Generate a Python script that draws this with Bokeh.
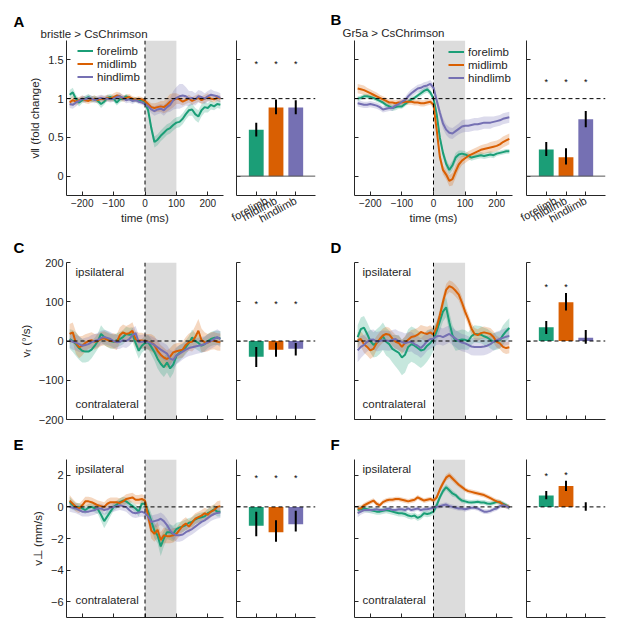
import numpy as np
from bokeh.plotting import figure
from bokeh.models import (Span, BoxAnnotation, Label, Legend, LegendItem,
                          FixedTicker, Range1d, Title)
from bokeh.layouts import column, row
from bokeh.embed import file_html
from bokeh.resources import INLINE
from bokeh.core.properties import value

# ---------------- data ----------------
t_ms = list(range(-240, 241, 10))
limbs = ["forelimb", "midlimb", "hindlimb"]
xticks_time = [-200, -100, 0, 100, 200]

# Panel A: bristle > CsChrimson, forward velocity (fold change)
A_fore = [1.05, 1.08, 1.00, 0.95, 0.98, 1.00, 1.02, 0.99, 1.00, 0.97,
          0.93, 0.96, 1.01, 1.02, 1.00, 0.95, 0.99, 1.00, 1.03, 1.01,
          0.98, 0.99, 0.97, 0.98, 0.95, 0.85, 0.62, 0.44, 0.47, 0.52,
          0.56, 0.60, 0.62, 0.66, 0.69, 0.70, 0.74, 0.80, 0.85, 0.86,
          0.80, 0.77, 0.85, 0.89, 0.88, 0.92, 0.90, 0.93, 0.92]
A_mid = [0.95, 0.98, 0.96, 0.98, 1.00, 0.98, 0.97, 0.99, 1.00, 0.98,
         1.00, 0.99, 1.01, 1.00, 1.02, 1.04, 1.03, 1.00, 1.01, 1.02,
         1.00, 0.99, 1.00, 0.99, 0.97, 0.93, 0.89, 0.88, 0.89, 0.90,
         0.89, 0.92, 0.96, 0.98, 1.00, 0.99, 0.96, 0.98, 1.00, 0.97,
         0.99, 1.01, 0.98, 1.00, 1.02, 1.00, 0.99, 1.01, 1.00]
A_hind = [0.93, 0.92, 0.95, 0.97, 1.00, 0.99, 1.01, 1.00, 0.98, 1.00,
          1.01, 1.00, 1.00, 0.99, 1.00, 1.02, 1.03, 1.01, 0.98, 0.99,
          0.97, 0.98, 0.96, 0.95, 0.93, 0.90, 0.86, 0.84, 0.86, 0.87,
          0.85, 0.89, 0.92, 0.98, 1.01, 1.03, 1.04, 1.03, 1.00, 1.01,
          0.99, 1.03, 1.02, 1.00, 1.03, 1.05, 1.04, 1.03, 1.01]
A_fore_sem = [0.06, 0.06, 0.05, 0.05, 0.04, 0.04, 0.04, 0.04, 0.04, 0.04,
              0.05, 0.04, 0.04, 0.04, 0.04, 0.04, 0.04, 0.03, 0.03, 0.03,
              0.03, 0.03, 0.03, 0.03, 0.03, 0.04, 0.06, 0.07, 0.07, 0.07,
              0.07, 0.07, 0.07, 0.07, 0.07, 0.07, 0.07, 0.07, 0.07, 0.08,
              0.08, 0.08, 0.08, 0.07, 0.06, 0.06, 0.05, 0.05, 0.05]
A_mid_sem = [0.05, 0.05, 0.05, 0.04, 0.04, 0.04, 0.04, 0.04, 0.04, 0.04,
             0.04, 0.04, 0.04, 0.04, 0.05, 0.05, 0.05, 0.04, 0.04, 0.04,
             0.03, 0.03, 0.03, 0.03, 0.03, 0.04, 0.05, 0.06, 0.06, 0.07,
             0.08, 0.09, 0.10, 0.09, 0.07, 0.06, 0.05, 0.05, 0.05, 0.05,
             0.05, 0.05, 0.05, 0.05, 0.05, 0.04, 0.04, 0.04, 0.04]
A_hind_sem = [0.05, 0.05, 0.05, 0.04, 0.04, 0.04, 0.04, 0.04, 0.04, 0.04,
              0.04, 0.04, 0.04, 0.04, 0.04, 0.04, 0.04, 0.04, 0.04, 0.04,
              0.04, 0.03, 0.03, 0.03, 0.03, 0.04, 0.05, 0.06, 0.06, 0.06,
              0.07, 0.07, 0.09, 0.12, 0.14, 0.16, 0.15, 0.12, 0.10, 0.09,
              0.08, 0.08, 0.08, 0.07, 0.07, 0.07, 0.06, 0.06, 0.06]
A_bar = [0.60, 0.885, 0.885]
A_bar_lo = [0.51, 0.80, 0.80]
A_bar_hi = [0.69, 0.99, 0.98]
A_star = [1.45, 1.45, 1.45]

# Panel B: Gr5a > CsChrimson, forward velocity (fold change)
B_fore = [1.00, 1.01, 1.03, 1.03, 1.02, 1.01, 0.99, 0.97, 0.95, 0.92,
          0.90, 0.88, 0.89, 0.90, 0.90, 0.93, 0.96, 0.99, 1.01, 1.04,
          1.07, 1.10, 1.12, 1.08, 1.00, 0.80, 0.50, 0.30, 0.16, 0.08,
          0.14, 0.24, 0.28, 0.29, 0.28, 0.26, 0.24, 0.25, 0.26, 0.27,
          0.26, 0.27, 0.28, 0.27, 0.29, 0.30, 0.31, 0.32, 0.32]
B_mid = [1.13, 1.12, 1.11, 1.09, 1.07, 1.05, 1.03, 1.01, 0.99, 0.97,
         0.95, 0.95, 0.94, 0.95, 0.95, 0.96, 0.96, 0.96, 0.95, 0.95,
         0.94, 0.94, 0.95, 0.96, 0.92, 0.60, 0.25, 0.08, 0.02, -0.06,
         -0.04, 0.06, 0.15, 0.20, 0.23, 0.26, 0.28, 0.30, 0.32, 0.34,
         0.35, 0.36, 0.37, 0.38, 0.39, 0.41, 0.44, 0.46, 0.48]
B_hind = [0.94, 0.93, 0.92, 0.92, 0.93, 0.92, 0.91, 0.89, 0.86, 0.87,
          0.88, 0.88, 0.91, 0.93, 0.96, 0.98, 1.03, 1.07, 1.10, 1.13,
          1.14, 1.16, 1.17, 1.19, 1.14, 0.98, 0.82, 0.68, 0.60, 0.56,
          0.55, 0.58, 0.61, 0.64, 0.65, 0.65, 0.66, 0.67, 0.67, 0.68,
          0.69, 0.69, 0.69, 0.70, 0.71, 0.72, 0.74, 0.75, 0.76]
B_fore_sem = [0.03, 0.03, 0.03, 0.03, 0.03, 0.03, 0.03, 0.03, 0.03, 0.04,
              0.04, 0.04, 0.04, 0.03, 0.03, 0.03, 0.03, 0.03, 0.03, 0.03,
              0.04, 0.04, 0.04, 0.04, 0.04, 0.04, 0.05, 0.05, 0.06, 0.06,
              0.06, 0.06, 0.05, 0.04, 0.04, 0.04, 0.04, 0.04, 0.04, 0.04,
              0.04, 0.04, 0.04, 0.04, 0.03, 0.03, 0.03, 0.03, 0.03]
B_mid_sem = [0.06, 0.06, 0.06, 0.05, 0.05, 0.05, 0.05, 0.04, 0.04, 0.04,
             0.04, 0.04, 0.04, 0.04, 0.04, 0.04, 0.04, 0.04, 0.04, 0.04,
             0.04, 0.04, 0.04, 0.04, 0.04, 0.05, 0.06, 0.06, 0.06, 0.07,
             0.08, 0.08, 0.07, 0.06, 0.06, 0.06, 0.06, 0.06, 0.06, 0.06,
             0.06, 0.06, 0.07, 0.07, 0.07, 0.07, 0.07, 0.07, 0.07]
B_hind_sem = [0.04, 0.04, 0.04, 0.04, 0.04, 0.04, 0.04, 0.04, 0.04, 0.04,
              0.04, 0.04, 0.04, 0.04, 0.04, 0.04, 0.05, 0.05, 0.05, 0.05,
              0.05, 0.05, 0.05, 0.05, 0.05, 0.05, 0.06, 0.07, 0.07, 0.07,
              0.07, 0.07, 0.07, 0.08, 0.08, 0.08, 0.08, 0.08, 0.08, 0.08,
              0.08, 0.08, 0.08, 0.07, 0.07, 0.07, 0.07, 0.07, 0.07]
B_bar = [0.345, 0.245, 0.735]
B_bar_lo = [0.26, 0.15, 0.63]
B_bar_hi = [0.44, 0.36, 0.84]
B_star = [1.22, 1.22, 1.22]

# Panel C: bristle, angular velocity (deg/s)
C_fore = [5, 0, -8, -18, -25, -27, -27, -22, -12, 0,
          18, 10, 5, 0, -2, 2, 5, 10, 18, 16,
          17, -5, -25, -12, -5, -3, -15, -28, -45, -58,
          -67, -55, -70, -60, -38, -30, -24, -16, -5, 9,
          0, -5, -12, -8, 0, 5, 8, 8, 7]
C_mid = [18, 22, -5, -16, -12, -5, 0, 2, -2, 0,
         5, 7, 3, 0, 0, -3, 15, 22, 18, 20,
         26, 5, 1, 1, 0, -2, -5, -10, -25, -35,
         -42, -46, -40, -29, -26, -24, -22, -10, -3, -2,
         10, 26, 2, -3, -4, 0, 1, -2, -3]
C_hind = [3, -2, -4, -8, -12, -10, -8, -3, 0, 3,
          8, 10, 8, 5, 0, -3, -2, 2, 0, 5,
          15, 20, -3, -2, -1, -3, -6, -10, -16, -22,
          -27, -32, -45, -48, -37, -32, -27, -22, -18, -16,
          -14, -12, -10, -8, -3, 0, 5, 10, 5]
C_fore_sem = [25, 28, 30, 30, 30, 28, 25, 22, 20, 20,
              22, 20, 20, 20, 18, 18, 18, 18, 18, 18,
              18, 20, 20, 18, 18, 18, 20, 22, 25, 25,
              25, 25, 25, 22, 20, 20, 18, 18, 18, 20,
              20, 20, 18, 18, 18, 18, 18, 18, 18]
C_mid_sem = [25, 25, 28, 28, 25, 22, 20, 20, 20, 18,
             18, 18, 18, 18, 20, 20, 20, 20, 20, 22,
             22, 20, 20, 20, 18, 20, 22, 22, 25, 25,
             25, 22, 22, 20, 20, 20, 20, 20, 22, 25,
             28, 30, 30, 25, 22, 22, 22, 22, 22]
C_hind_sem = [20, 20, 20, 20, 18, 18, 18, 18, 18, 18,
              18, 18, 18, 18, 18, 18, 18, 18, 18, 18,
              18, 18, 18, 18, 18, 18, 18, 18, 20, 20,
              22, 22, 22, 22, 22, 22, 20, 20, 20, 20,
              20, 20, 20, 20, 20, 20, 20, 20, 20]
C_bar = [-40, -22, -20]
C_bar_lo = [-66, -40, -37]
C_bar_hi = [-15, -4, -5]
C_star = [95, 95, 95]

# Panel D: Gr5a, angular velocity (deg/s)
D_fore = [10, 30, 34, 18, 0, -10, -5, 2, 12, -2,
          -8, -20, -25, -30, -42, -35, -15, -8, -12, -18,
          -24, -22, -12, -5, 5, 25, 50, 75, 86, 48,
          15, 0, 2, 4, 3, 0, 12, 18, 17, 16,
          12, 9, 3, -2, 0, 2, 15, 25, 33]
D_mid = [2, 5, -8, -15, -24, -20, -5, 5, 14, 18,
         16, 6, -2, -5, -15, -5, 3, 10, 12, 16,
         23, 20, 18, 22, 16, 35, 65, 100, 130, 140,
         136, 128, 118, 98, 75, 55, 32, 18, 15, 20,
         22, 20, 18, 10, -2, -6, -15, -18, -16]
D_hind = [-24, -15, -10, -2, 3, 4, -2, 0, 2, 1,
          0, 3, 5, 0, -2, -6, -3, -2, -8, -12,
          -18, -10, 0, 5, 6, 12, 13, 10, 14, 18,
          12, 6, 0, -4, -6, -10, -14, -15, -15, -15,
          -14, -12, -8, -2, 2, 5, 8, 11, 13]
D_fore_sem = [30, 30, 30, 30, 30, 32, 35, 35, 35, 35,
              35, 35, 40, 45, 45, 45, 45, 45, 45, 45,
              45, 40, 40, 35, 30, 25, 25, 25, 25, 25,
              25, 25, 25, 25, 25, 22, 22, 22, 22, 22,
              22, 22, 22, 22, 22, 22, 25, 25, 25]
D_mid_sem = [20, 20, 22, 22, 22, 20, 18, 18, 18, 18,
             18, 18, 18, 18, 18, 18, 18, 18, 18, 18,
             18, 18, 18, 18, 15, 15, 15, 15, 15, 15,
             15, 15, 15, 15, 15, 15, 15, 15, 15, 15,
             15, 15, 15, 15, 15, 15, 15, 15, 15]
D_hind_sem = [30, 28, 25, 25, 25, 25, 25, 25, 25, 25,
              25, 25, 25, 25, 25, 25, 25, 25, 25, 25,
              25, 25, 25, 25, 22, 22, 22, 22, 22, 22,
              22, 22, 22, 22, 22, 22, 22, 22, 22, 22,
              22, 22, 22, 22, 22, 22, 22, 22, 22]
D_bar = [35, 99, 8]
D_bar_lo = [18, 78, -7]
D_bar_hi = [51, 122, 28]
D_star_x = [1, 2]
D_star = [138, 138]

# Panel E: bristle, lateral velocity (mm/s)
E_fore = [0.3, 0.1, 0.0, 0.0, -0.1, -0.2, -0.05, 0.0, -0.1, -0.15,
          -0.5, -0.9, -0.6, -0.3, 0.0, 0.15, 0.3, 0.4, 0.35, 0.2,
          0.05, -0.1, -0.3, 0.2, 0.2, -0.3, -0.9, -1.5, -1.8, -2.5,
          -2.0, -1.6, -1.6, -1.7, -1.4, -1.3, -1.25, -1.15, -1.0, -0.95,
          -0.8, -0.7, -0.65, -0.6, -0.4, -0.3, -0.15, -0.3, -0.3]
E_mid = [0.4, 0.2, 0.0, -0.1, 0.1, 0.35, 0.35, 0.3, 0.2, 0.1,
         0.05, 0.0, 0.2, 0.3, 0.3, 0.3, 0.25, 0.35, 0.5, 0.55,
         0.6, 0.45, 0.45, 0.5, 0.4, -0.6, -1.5, -1.7, -1.45, -2.1,
         -1.8, -1.85, -1.85, -1.8, -1.7, -1.45, -1.2, -1.05, -1.25, -1.0,
         -0.75, -0.65, -0.55, -0.4, -0.5, -0.3, -0.2, 0.0, 0.05]
E_hind = [0.0, -0.05, -0.1, -0.2, -0.3, -0.3, -0.3, -0.25, -0.2, -0.1,
          -0.1, -0.2, -0.15, -0.05, 0.0, 0.05, 0.1, 0.05, 0.0, -0.2,
          -0.35, -0.4, -0.35, -0.3, -0.4, -0.6, -0.95, -0.9, -0.85, -0.75,
          -0.9, -1.15, -1.5, -1.7, -1.8, -1.8, -1.75, -1.6, -1.5, -1.4,
          -1.25, -1.1, -0.95, -0.85, -0.7, -0.55, -0.45, -0.38, -0.35]
E_fore_sem = [0.35, 0.3, 0.25, 0.25, 0.25, 0.25, 0.25, 0.25, 0.25, 0.3,
              0.4, 0.45, 0.4, 0.3, 0.25, 0.25, 0.25, 0.25, 0.25, 0.25,
              0.25, 0.25, 0.3, 0.3, 0.3, 0.4, 0.5, 0.5, 0.5, 0.6,
              0.5, 0.45, 0.5, 0.5, 0.4, 0.35, 0.35, 0.35, 0.3, 0.3,
              0.3, 0.3, 0.3, 0.3, 0.3, 0.3, 0.3, 0.3, 0.3]
E_mid_sem = [0.35, 0.3, 0.3, 0.3, 0.3, 0.3, 0.3, 0.3, 0.3, 0.3,
             0.3, 0.3, 0.3, 0.3, 0.3, 0.3, 0.3, 0.3, 0.3, 0.3,
             0.3, 0.3, 0.3, 0.3, 0.3, 0.4, 0.5, 0.5, 0.5, 0.5,
             0.5, 0.45, 0.45, 0.45, 0.4, 0.4, 0.4, 0.4, 0.4, 0.4,
             0.35, 0.35, 0.35, 0.35, 0.35, 0.35, 0.35, 0.35, 0.35]
E_hind_sem = [0.3, 0.3, 0.3, 0.3, 0.3, 0.3, 0.3, 0.3, 0.3, 0.3,
              0.3, 0.3, 0.3, 0.3, 0.3, 0.3, 0.3, 0.3, 0.3, 0.3,
              0.3, 0.3, 0.3, 0.3, 0.3, 0.35, 0.4, 0.4, 0.4, 0.4,
              0.4, 0.4, 0.4, 0.4, 0.4, 0.4, 0.4, 0.4, 0.35, 0.35,
              0.35, 0.35, 0.35, 0.35, 0.35, 0.35, 0.35, 0.35, 0.35]
E_bar = [-1.2, -1.6, -1.1]
E_bar_lo = [-1.85, -2.2, -1.55]
E_bar_hi = [-0.3, -0.85, -0.25]
E_star = [1.8, 1.8, 1.8]

# Panel F: Gr5a, lateral velocity (mm/s)
F_fore = [-0.2, -0.15, -0.1, -0.15, -0.2, -0.25, -0.3, -0.3, -0.25, -0.2,
          -0.25, -0.3, -0.35, -0.4, -0.4, -0.45, -0.55, -0.6, -0.55, -0.7,
          -0.6, -0.4, -0.45, -0.4, -0.3, 0.1, 0.6, 1.0, 1.25, 1.05,
          0.85, 0.75, 0.55, 0.4, 0.35, 0.3, 0.28, 0.3, 0.32, 0.28,
          0.28, 0.22, 0.2, 0.25, 0.32, 0.28, 0.2, 0.1, -0.05]
F_mid = [-0.1, -0.1, 0.1, 0.2, 0.3, 0.4, 0.2, 0.1, 0.3, 0.4,
         0.45, 0.45, 0.5, 0.5, 0.45, 0.4, 0.35, 0.4, 0.45, 0.6,
         0.5, 0.4, 0.45, 0.5, 0.4, 0.6, 1.1, 1.5, 1.85, 2.0,
         1.8, 1.6, 1.4, 1.25, 1.1, 1.0, 0.95, 0.9, 0.85, 0.8,
         0.75, 0.65, 0.55, 0.45, 0.35, 0.3, 0.15, 0.05, 0.0]
F_hind = [-0.4, -0.3, -0.2, -0.2, -0.2, -0.18, -0.15, -0.2, -0.2, -0.15,
          -0.1, -0.2, -0.2, -0.15, -0.15, -0.2, -0.1, -0.2, -0.15, -0.1,
          -0.2, -0.15, -0.15, -0.1, -0.05, 0.0, 0.05, 0.1, 0.15, 0.05,
          0.0, -0.05, -0.1, -0.1, -0.15, -0.1, -0.05, -0.05, -0.1, -0.2,
          -0.3, -0.3, -0.25, -0.15, -0.1, 0.05, 0.1, 0.05, -0.05]
F_fore_sem = [0.2, 0.2, 0.2, 0.2, 0.2, 0.2, 0.2, 0.2, 0.2, 0.2,
              0.2, 0.2, 0.2, 0.2, 0.2, 0.2, 0.2, 0.2, 0.2, 0.2,
              0.2, 0.2, 0.2, 0.2, 0.2, 0.2, 0.2, 0.2, 0.2, 0.2,
              0.2, 0.15, 0.15, 0.15, 0.15, 0.15, 0.15, 0.15, 0.15, 0.15,
              0.15, 0.15, 0.15, 0.15, 0.15, 0.15, 0.15, 0.15, 0.15]
F_mid_sem = [0.2, 0.2, 0.15, 0.15, 0.15, 0.15, 0.15, 0.15, 0.15, 0.15,
             0.15, 0.15, 0.15, 0.15, 0.15, 0.15, 0.15, 0.15, 0.15, 0.15,
             0.15, 0.15, 0.15, 0.15, 0.15, 0.15, 0.2, 0.2, 0.2, 0.2,
             0.2, 0.2, 0.15, 0.15, 0.15, 0.15, 0.15, 0.15, 0.15, 0.15,
             0.15, 0.15, 0.15, 0.15, 0.15, 0.15, 0.15, 0.15, 0.15]
F_hind_sem = [0.25, 0.2, 0.2, 0.15, 0.15, 0.15, 0.15, 0.15, 0.15, 0.15,
              0.15, 0.15, 0.15, 0.15, 0.15, 0.15, 0.15, 0.15, 0.15, 0.15,
              0.15, 0.15, 0.15, 0.15, 0.15, 0.15, 0.15, 0.15, 0.15, 0.15,
              0.15, 0.15, 0.15, 0.15, 0.15, 0.15, 0.15, 0.15, 0.15, 0.15,
              0.15, 0.15, 0.15, 0.15, 0.15, 0.15, 0.15, 0.15, 0.15]
F_bar = [0.72, 1.33, 0.0]
F_bar_lo = [0.48, 1.0, -0.25]
F_bar_hi = [1.0, 1.65, 0.3]
F_star_x = [1, 2]
F_star = [1.95, 2.0]

# ---------------- style ----------------
FONT = "Liberation Sans"
COLORS = ["#1b9e77", "#d95f02", "#7570b3"]
AXC = "#262626"
TXC = "#262626"
STIM = "#dcdcdc"


def base_fig(w, h, bl, br, bt, bb, xr, yr):
    p = figure(width=w, height=h, x_range=Range1d(*xr), y_range=Range1d(*yr),
               output_backend="svg", toolbar_location=None, title=None,
               min_border_left=bl, min_border_right=br,
               min_border_top=bt, min_border_bottom=bb)
    p.outline_line_color = None
    p.xgrid.visible = False
    p.ygrid.visible = False
    p.background_fill_color = "white"
    p.border_fill_color = "white"
    return p


def style_axis(ax, ticks, show_labels, fs):
    ax.ticker = FixedTicker(ticks=ticks)
    ax.major_tick_in = 4
    ax.major_tick_out = 0
    ax.minor_tick_line_color = None
    ax.axis_line_color = AXC
    ax.major_tick_line_color = AXC
    ax.major_label_text_font = FONT
    ax.major_label_text_font_size = fs
    ax.major_label_text_color = TXC
    ax.major_label_standoff = 3
    ax.axis_label_text_font = FONT
    ax.axis_label_text_font_size = "11.5px"
    ax.axis_label_text_font_style = "normal"
    ax.axis_label_text_color = TXC
    ax.axis_label_standoff = 4
    if not show_labels:
        ax.major_label_overrides = {tk: "" for tk in ticks}


def add_title(p, text, offset, standoff, size="11.5px", bold=False, valign="bottom"):
    p.add_layout(Title(text=text, align="left", offset=offset, standoff=standoff,
                       vertical_align=valign,
                       text_font=FONT, text_font_size=size,
                       text_font_style="bold" if bold else "normal",
                       text_color="black" if bold else TXC), "above")


def add_text(p, x, y, text):
    p.add_layout(Label(x=x, y=y, x_units="screen", y_units="screen", text=text,
                       text_font=FONT, text_font_size="11.5px",
                       text_color=TXC, text_baseline="alphabetic"))


def line_fig(w, h, bl, br, bt, bb, yr, yticks, means, sems, ref_y,
             xlab, ylab, ylabel_text=None, legend_loc=None):
    p = base_fig(w, h, bl, br, bt, bb, (-250, 250), yr)
    p.add_layout(BoxAnnotation(left=0, right=100, fill_color=STIM, fill_alpha=1.0,
                               line_color=None, level="underlay"))
    renderers = []
    for m, s, c in zip(means, sems, COLORS):
        m = np.array(m, dtype=float)
        s = np.array(s, dtype=float)
        p.varea(x=t_ms, y1=m - s, y2=m + s, fill_color=c, fill_alpha=0.25)
    for m, c in zip(means, COLORS):
        r = p.line(t_ms, m, line_color=c, line_width=2)
        renderers.append(r)
    p.add_layout(Span(location=0, dimension="height", line_color="black",
                      line_width=1, line_dash="4 3"))
    p.add_layout(Span(location=ref_y, dimension="width", line_color="black",
                      line_width=1, line_dash="4 3"))
    style_axis(p.below[0], xticks_time, xlab, "10px")
    style_axis(p.left[0], yticks, ylab, "11px")
    if xlab:
        p.xaxis.axis_label = "time (ms)"
        p.xaxis.axis_label_standoff = 2
    if ylabel_text:
        p.yaxis.axis_label = ylabel_text
    if legend_loc is not None:
        items = [LegendItem(label=n, renderers=[r]) for n, r in zip(limbs, renderers)]
        leg = Legend(items=items, location=legend_loc, glyph_width=16,
                     glyph_height=13, label_height=13, spacing=0, padding=0,
                     margin=0, label_standoff=4, border_line_color=None,
                     background_fill_alpha=0, label_text_font=FONT,
                     label_text_font_size="11.5px", label_text_color=TXC)
        p.add_layout(leg)
    return p


def bar_fig(w, h, bl, br, bt, bb, yr, yticks, vals, lo, hi, star_x, star_y,
            ref_y, baseline, xlab):
    p = base_fig(w, h, bl, br, bt, bb, (0, 4), yr)
    xs = [1, 2, 3]
    bottoms = [min(0, v) for v in vals]
    tops = [max(0, v) for v in vals]
    p.vbar(x=xs, width=0.75, bottom=bottoms, top=tops, fill_color=COLORS,
           line_color=None)
    p.add_layout(Span(location=ref_y, dimension="width", line_color="black",
                      line_width=1, line_dash="4 3"))
    if baseline:
        p.add_layout(Span(location=0, dimension="width", line_color="#555555",
                          line_width=1))
    p.segment(x0=xs, y0=lo, x1=xs, y1=hi, line_color="black", line_width=2)
    p.text(x=star_x, y=star_y, text=["*"] * len(star_x), text_align="center",
           text_baseline="middle", text_font=value(FONT), text_font_size="9px",
           text_color="black")
    style_axis(p.below[0], xs, xlab, "11px")
    style_axis(p.left[0], yticks, False, "11px")
    if xlab:
        p.xaxis.major_label_overrides = {1: "forelimb", 2: "midlimb", 3: "hindlimb"}
        p.xaxis.major_label_orientation = 0.5
        p.xaxis.major_label_standoff = 4
    return p


# ---------------- layout ----------------
# row 1 (frame height 157)
H1, T1, B1 = 232, 40, 35
pA = line_fig(229, H1, 66, 6, T1, B1, (-0.25, 1.75), [0, 0.5, 1, 1.5],
              [A_fore, A_mid, A_hind], [A_fore_sem, A_mid_sem, A_hind_sem], 1,
              True, True, "v\u2016 (fold change)", legend_loc=(11, 112))
add_title(pA, "bristle > CsChrimson", -26, 1)
add_title(pA, "A", -53, -8, "15px", True)
bA = bar_fig(101, H1, 7, 15, T1, B1, (-0.25, 1.75), [0, 0.5, 1, 1.5],
             A_bar, A_bar_lo, A_bar_hi, [1, 2, 3], A_star, 1, True, True)
pB = line_fig(188, H1, 24, 6, T1, B1, (-0.25, 1.75), [0, 0.5, 1, 1.5],
              [B_fore, B_mid, B_hind], [B_fore_sem, B_mid_sem, B_hind_sem], 1,
              True, False, None, legend_loc=(94, 111))
add_title(pB, "Gr5a > CsChrimson", -12, 3)
add_title(pB, "B", -24, -8, "15px", True)
bB = bar_fig(91, H1, 8, 4, T1, B1, (-0.25, 1.75), [0, 0.5, 1, 1.5],
             B_bar, B_bar_lo, B_bar_hi, [1, 2, 3], B_star, 1, True, True)

# row 2 (frame height 157)
H2, T2, B2 = 197, 30, 10
ang_ticks = [-200, -100, 0, 100, 200]
pC = line_fig(229, H2, 66, 6, T2, B2, (-200, 200), ang_ticks,
              [C_fore, C_mid, C_hind], [C_fore_sem, C_mid_sem, C_hind_sem], 0,
              False, True, "v\u1d63 (\u00b0/s)")
add_title(pC, "C", -53, 9, "15px", True, "top")
add_text(pC, 9, 148, "ipsilateral")
add_text(pC, 9, 16, "contralateral")
bC = bar_fig(101, H2, 7, 15, T2, B2, (-200, 200), ang_ticks,
             C_bar, C_bar_lo, C_bar_hi, [1, 2, 3], C_star, 0, False, False)
pD = line_fig(188, H2, 24, 6, T2, B2, (-200, 200), ang_ticks,
              [D_fore, D_mid, D_hind], [D_fore_sem, D_mid_sem, D_hind_sem], 0,
              False, False, None)
add_title(pD, "D", -24, 9, "15px", True, "top")
add_text(pD, 8, 148, "ipsilateral")
add_text(pD, 8, 16, "contralateral")
bD = bar_fig(91, H2, 8, 4, T2, B2, (-200, 200), ang_ticks,
             D_bar, D_bar_lo, D_bar_hi, D_star_x, D_star, 0, False, False)

# row 3 (frame height 158)
H3, T3, B3 = 193, 30, 5
lat_ticks = [-6, -4, -2, 0, 2]
pE = line_fig(229, H3, 66, 6, T3, B3, (-7, 3), lat_ticks,
              [E_fore, E_mid, E_hind], [E_fore_sem, E_mid_sem, E_hind_sem], 0,
              False, True, "v\u22a5 (mm/s)")
add_title(pE, "E", -53, 9, "15px", True, "top")
add_text(pE, 9, 149, "ipsilateral")
add_text(pE, 9, 18, "contralateral")
bE = bar_fig(101, H3, 7, 15, T3, B3, (-7, 3), lat_ticks,
             E_bar, E_bar_lo, E_bar_hi, [1, 2, 3], E_star, 0, False, False)
pF = line_fig(188, H3, 24, 6, T3, B3, (-7, 3), lat_ticks,
              [F_fore, F_mid, F_hind], [F_fore_sem, F_mid_sem, F_hind_sem], 0,
              False, False, None)
add_title(pF, "F", -24, 9, "15px", True, "top")
add_text(pF, 8, 149, "ipsilateral")
add_text(pF, 8, 18, "contralateral")
bF = bar_fig(91, H3, 8, 4, T3, B3, (-7, 3), lat_ticks,
             F_bar, F_bar_lo, F_bar_hi, F_star_x, F_star, 0, False, False)

layout = column(row(pA, bA, pB, bB), row(pC, bC, pD, bD), row(pE, bE, pF, bF))

with open("out.html", "w") as f:
    f.write(file_html(layout, INLINE))
